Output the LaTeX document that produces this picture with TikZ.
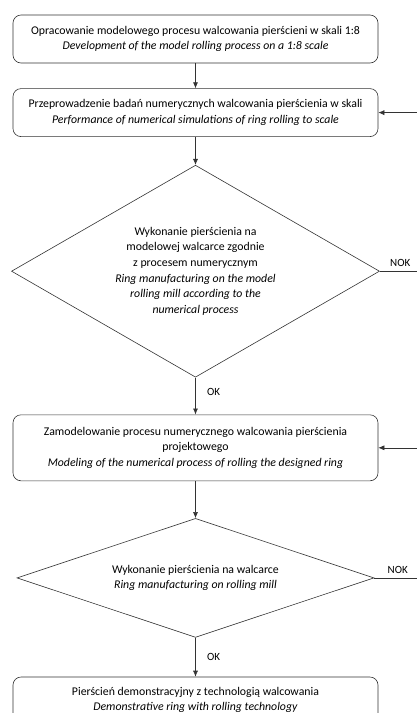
\documentclass[tikz,border=0pt]{standalone}
\usepackage{fontspec}
\setmainfont{Carlito}
\usetikzlibrary{positioning,shapes.geometric,arrows.meta}

\begin{document}
\begin{tikzpicture}[x=1pt, y=1pt, node distance=25pt, >={Latex[length=6pt,width=5pt]}, line width=0.6pt,
    stepbox/.style={draw=black!80, rectangle, rounded corners=8pt, minimum width=365pt, align=center, font=\fontsize{11.8}{15.7}\selectfont},
    decision/.style={draw=black!80, diamond, inner sep=0pt, align=center, font=\fontsize{11.8}{15.7}\selectfont},
    flow/.style={->, draw=black!80},
    lbl/.style={font=\fontsize{11}{12}\selectfont}]
        % page frame (the figure is cut at the bottom)
        \clip (0,0) rectangle (417,-713);
        \useasboundingbox (0,0) rectangle (417,-713);

        % Main steps of the procedure
        \node[stepbox, minimum height=48pt] (model) at (195.5,-39) {Opracowanie modelowego procesu walcowania pierścieni w skali 1:8\\\textit{Development of the model rolling process on a 1:8 scale}};
        \node[stepbox, minimum height=48pt, below=25pt of model] (sim) {Przeprowadzenie badań numerycznych walcowania pierścienia w skali\\\textit{Performance of numerical simulations of ring rolling to scale}};
        \node[decision, minimum width=368pt, minimum height=212pt, aspect=1.74, below=28pt of sim] (test) {Wykonanie pierścienia na\\modelowej walcarce zgodnie\\z procesem numerycznym\\\textit{Ring manufacturing on the model}\\\textit{rolling mill according to the}\\\textit{numerical process}};
        \node[stepbox, minimum height=66pt, below=37pt of test] (design) {Zamodelowanie procesu numerycznego walcowania pierścienia\\projektowego\\\textit{Modeling of the numerical process of rolling the designed ring}};
        \node[decision, minimum width=357pt, minimum height=119pt, aspect=3, below=37pt of design] (mill) {Wykonanie pierścienia na walcarce\\\textit{Ring manufacturing on rolling mill}};
        \node[stepbox, minimum height=46pt, below=39pt of mill] (demo) {Pierścień demonstracyjny z technologią walcowania\\\textit{Demonstrative ring with rolling technology}};

        % loose ends at the right border
        \coordinate (back1) at (417,0 |- sim.east);
        \coordinate (back2) at (417,0 |- design.east);
        \coordinate (nok1) at (417,0 |- test.east);
        \coordinate (nok2) at (417,0 |- mill.east);

        % Connections
        \draw[flow] (model) -- (sim);
        \draw[flow] (sim) -- (test);
        \draw[flow] (test) -- node[lbl, right=8pt, pos=0.4] {OK} (design);
        \draw[flow] (design) -- (mill);
        \draw[flow] (mill) -- node[lbl, right=8pt, pos=0.5] {OK} (demo);
        \draw[draw=black!80] (test.east) -- node[lbl, above=1pt, pos=0.55] {NOK} (nok1);
        \draw[draw=black!80] (mill.east) -- node[lbl, above=1pt, pos=0.55] {NOK} (nok2);
        \draw[flow] (back1) -- (sim.east);
        \draw[flow] (back2) -- (design.east);
    \end{tikzpicture}
\end{document}
